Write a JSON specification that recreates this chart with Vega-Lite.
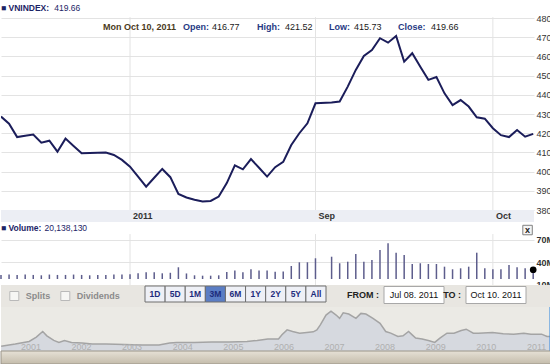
{
  "$schema": "https://vega.github.io/schema/vega-lite/v6.json",
  "padding": 0,
  "background": "#ffffff",
  "spacing": 0,
  "bounds": "flush",
  "config": {
    "view": {"stroke": null},
    "font": "Liberation Sans",
    "concat": {"spacing": 0},
    "axis": {"labelFont": "Liberation Sans", "labelOverlap": false}
  },
  "datasets": {
    "months": [
      {"i": 16, "label": "2011"},
      {"i": 39, "label": "Sep"},
      {"i": 61, "label": "Oct"}
    ],
    "daily": [
      {"i": 0, "d": "2011-07-08", "close": 428.7, "vol_m": 23},
      {"i": 1, "d": "2011-07-11", "close": 425, "vol_m": 23.5},
      {"i": 2, "d": "2011-07-12", "close": 418, "vol_m": 23},
      {"i": 3, "d": "2011-07-13", "close": 418.7, "vol_m": 23.5},
      {"i": 4, "d": "2011-07-14", "close": 419.3, "vol_m": 23},
      {"i": 5, "d": "2011-07-15", "close": 415.1, "vol_m": 22.5},
      {"i": 6, "d": "2011-07-18", "close": 416.1, "vol_m": 23.5},
      {"i": 7, "d": "2011-07-19", "close": 410.4, "vol_m": 23},
      {"i": 8, "d": "2011-07-20", "close": 417.2, "vol_m": 23},
      {"i": 9, "d": "2011-07-21", "close": 413.4, "vol_m": 23.5},
      {"i": 10, "d": "2011-07-22", "close": 409.6, "vol_m": 23},
      {"i": 11, "d": "2011-07-25", "close": 409.7, "vol_m": 22.5},
      {"i": 12, "d": "2011-07-26", "close": 409.8, "vol_m": 23},
      {"i": 13, "d": "2011-07-27", "close": 409.9, "vol_m": 23},
      {"i": 14, "d": "2011-07-28", "close": 408.7, "vol_m": 23.5},
      {"i": 15, "d": "2011-07-29", "close": 406.1, "vol_m": 23.5},
      {"i": 16, "d": "2011-08-01", "close": 402.6, "vol_m": 24},
      {"i": 17, "d": "2011-08-02", "close": 397.4, "vol_m": 25.2},
      {"i": 18, "d": "2011-08-03", "close": 392.2, "vol_m": 26.5},
      {"i": 19, "d": "2011-08-04", "close": 396.8, "vol_m": 26.5},
      {"i": 20, "d": "2011-08-05", "close": 401.4, "vol_m": 25.2},
      {"i": 21, "d": "2011-08-08", "close": 397.1, "vol_m": 25.9},
      {"i": 22, "d": "2011-08-09", "close": 388.4, "vol_m": 33.3},
      {"i": 23, "d": "2011-08-10", "close": 386.5, "vol_m": 25},
      {"i": 24, "d": "2011-08-11", "close": 385.3, "vol_m": 22.5},
      {"i": 25, "d": "2011-08-12", "close": 384.4, "vol_m": 22},
      {"i": 26, "d": "2011-08-15", "close": 384.7, "vol_m": 22},
      {"i": 27, "d": "2011-08-16", "close": 387, "vol_m": 22.5},
      {"i": 28, "d": "2011-08-17", "close": 394, "vol_m": 27},
      {"i": 29, "d": "2011-08-18", "close": 403.3, "vol_m": 28.8},
      {"i": 30, "d": "2011-08-19", "close": 401.2, "vol_m": 26.5},
      {"i": 31, "d": "2011-08-22", "close": 406.5, "vol_m": 30.5},
      {"i": 32, "d": "2011-08-23", "close": 402, "vol_m": 28.8},
      {"i": 33, "d": "2011-08-24", "close": 397.4, "vol_m": 28.8},
      {"i": 34, "d": "2011-08-25", "close": 402.3, "vol_m": 27.3},
      {"i": 35, "d": "2011-08-26", "close": 405.1, "vol_m": 27.5},
      {"i": 36, "d": "2011-08-29", "close": 413.9, "vol_m": 35},
      {"i": 37, "d": "2011-08-30", "close": 420, "vol_m": 40},
      {"i": 38, "d": "2011-08-31", "close": 425.2, "vol_m": 40},
      {"i": 39, "d": "2011-09-01", "close": 435.6, "vol_m": 45.4},
      {"i": 41, "d": "2011-09-05", "close": 436, "vol_m": 47.5},
      {"i": 42, "d": "2011-09-06", "close": 436.5, "vol_m": 38.7},
      {"i": 43, "d": "2011-09-07", "close": 444.3, "vol_m": 40.8},
      {"i": 44, "d": "2011-09-08", "close": 453, "vol_m": 51.2},
      {"i": 45, "d": "2011-09-09", "close": 460.3, "vol_m": 40.8},
      {"i": 46, "d": "2011-09-12", "close": 463.4, "vol_m": 43.1},
      {"i": 47, "d": "2011-09-13", "close": 469.5, "vol_m": 56.6},
      {"i": 48, "d": "2011-09-14", "close": 467.2, "vol_m": 65.6},
      {"i": 49, "d": "2011-09-15", "close": 470.7, "vol_m": 52.9},
      {"i": 50, "d": "2011-09-16", "close": 457.3, "vol_m": 49.8},
      {"i": 51, "d": "2011-09-19", "close": 461.7, "vol_m": 37.7},
      {"i": 52, "d": "2011-09-20", "close": 454.7, "vol_m": 38.7},
      {"i": 53, "d": "2011-09-21", "close": 447.8, "vol_m": 37.7},
      {"i": 54, "d": "2011-09-22", "close": 449.3, "vol_m": 37.7},
      {"i": 55, "d": "2011-09-23", "close": 440.8, "vol_m": 34.1},
      {"i": 56, "d": "2011-09-26", "close": 434.7, "vol_m": 30.6},
      {"i": 57, "d": "2011-09-27", "close": 437.3, "vol_m": 31.9},
      {"i": 58, "d": "2011-09-28", "close": 433.9, "vol_m": 34.1},
      {"i": 59, "d": "2011-09-29", "close": 428.3, "vol_m": 52.9},
      {"i": 60, "d": "2011-09-30", "close": 427.6, "vol_m": 31.9},
      {"i": 61, "d": "2011-10-03", "close": 422.6, "vol_m": 30.6},
      {"i": 62, "d": "2011-10-04", "close": 419, "vol_m": 30.6},
      {"i": 63, "d": "2011-10-05", "close": 418, "vol_m": 36.4},
      {"i": 64, "d": "2011-10-06", "close": 421.7, "vol_m": 33.3},
      {"i": 65, "d": "2011-10-07", "close": 418.2, "vol_m": 31.9},
      {"i": 66, "d": "2011-10-10", "close": 419.66, "vol_m": 30}
    ],
    "nav": [
      {"d": "2000-08-29", "v": 136},
      {"d": "2000-12-09", "v": 204},
      {"d": "2001-03-19", "v": 281},
      {"d": "2001-05-10", "v": 407},
      {"d": "2001-06-25", "v": 571},
      {"d": "2001-07-25", "v": 445},
      {"d": "2001-09-13", "v": 310},
      {"d": "2001-10-20", "v": 252},
      {"d": "2001-11-29", "v": 310},
      {"d": "2002-01-19", "v": 252},
      {"d": "2002-04-06", "v": 233},
      {"d": "2002-06-18", "v": 204},
      {"d": "2002-09-27", "v": 204},
      {"d": "2003-02-03", "v": 194},
      {"d": "2003-06-06", "v": 175},
      {"d": "2003-10-12", "v": 175},
      {"d": "2003-12-28", "v": 233},
      {"d": "2004-02-17", "v": 252},
      {"d": "2004-06-24", "v": 252},
      {"d": "2004-10-27", "v": 262},
      {"d": "2005-03-04", "v": 262},
      {"d": "2005-07-09", "v": 281},
      {"d": "2005-09-20", "v": 310},
      {"d": "2005-12-06", "v": 349},
      {"d": "2006-02-21", "v": 349},
      {"d": "2006-03-18", "v": 474},
      {"d": "2006-04-24", "v": 619},
      {"d": "2006-06-03", "v": 571},
      {"d": "2006-07-24", "v": 523},
      {"d": "2006-09-13", "v": 542},
      {"d": "2006-10-30", "v": 561},
      {"d": "2006-11-25", "v": 619},
      {"d": "2006-12-20", "v": 764},
      {"d": "2007-01-30", "v": 1054},
      {"d": "2007-03-07", "v": 1170},
      {"d": "2007-04-13", "v": 1054},
      {"d": "2007-05-08", "v": 957},
      {"d": "2007-06-03", "v": 1122},
      {"d": "2007-07-13", "v": 1083},
      {"d": "2007-09-03", "v": 957},
      {"d": "2007-10-09", "v": 1102},
      {"d": "2007-11-14", "v": 1083},
      {"d": "2008-01-04", "v": 957},
      {"d": "2008-02-24", "v": 813},
      {"d": "2008-04-05", "v": 571},
      {"d": "2008-05-11", "v": 523},
      {"d": "2008-07-02", "v": 426},
      {"d": "2008-08-08", "v": 445},
      {"d": "2008-09-17", "v": 571},
      {"d": "2008-10-13", "v": 474},
      {"d": "2008-11-07", "v": 378},
      {"d": "2008-12-24", "v": 349},
      {"d": "2009-02-13", "v": 301},
      {"d": "2009-03-25", "v": 252},
      {"d": "2009-05-01", "v": 378},
      {"d": "2009-06-21", "v": 523},
      {"d": "2009-08-11", "v": 523},
      {"d": "2009-10-02", "v": 600},
      {"d": "2009-11-07", "v": 639},
      {"d": "2009-12-28", "v": 523},
      {"d": "2010-02-03", "v": 523},
      {"d": "2010-05-16", "v": 542},
      {"d": "2010-08-01", "v": 503},
      {"d": "2010-10-16", "v": 494},
      {"d": "2010-12-28", "v": 523},
      {"d": "2011-02-17", "v": 494},
      {"d": "2011-05-05", "v": 494},
      {"d": "2011-06-13", "v": 426},
      {"d": "2011-07-08", "v": 428.7},
      {"d": "2011-10-10", "v": 419.66}
    ]
  },
  "vconcat": [
    {
      "width": 533,
      "height": 222,
      "layer": [
        {
          "data": {"name": "months"},
          "mark": {"type": "rule", "color": "#e3e3e3", "strokeWidth": 1},
          "encoding": {
            "x": {"field": "i", "type": "quantitative", "scale": {"domain": [0, 66.1], "nice": false, "zero": false}, "axis": null},
            "y": {
              "datum": 380, "type": "quantitative",
              "scale": {"domain": [373.75, 489.43], "nice": false, "zero": false},
              "axis": {
                "title": null, "orient": "right", "values": [380, 390, 400, 410, 420, 430, 440, 450, 460, 470, 480],
                "tickCount": 50,
                "grid": true, "gridColor": "#e3e3e3", "ticks": false, "domain": false, "labelOverlap": false,
                "labelFontSize": 9, "labelColor": "#333333", "labelPadding": 2
              }
            },
            "y2": {"datum": 480.5}
          }
        },
        {
          "data": {"values": [{}]},
          "mark": {"type": "rect", "color": "#eceef4"},
          "encoding": {
            "x": {"datum": 0, "type": "quantitative"}, "x2": {"datum": 66.1},
            "y": {"datum": 380, "type": "quantitative"}, "y2": {"datum": 373.75}
          }
        },
        {
          "data": {"name": "daily"},
          "mark": {"type": "line", "color": "#1b1d5a", "strokeWidth": 2, "clip": true},
          "encoding": {
            "x": {"field": "i", "type": "quantitative"},
            "y": {"field": "close", "type": "quantitative"}
          }
        },
        {
          "data": {"name": "months"},
          "mark": {"type": "text", "align": "left", "baseline": "middle", "dx": 3, "fontSize": 9, "fontWeight": "bold", "color": "#333333"},
          "encoding": {
            "x": {"field": "i", "type": "quantitative"},
            "y": {"datum": 376.9, "type": "quantitative"},
            "text": {"field": "label"}
          }
        },
        {"data": {"values": [{}]}, "mark": {"type": "text", "text": "■ VNINDEX:", "align": "left", "baseline": "middle", "fontSize": 8.5, "fontWeight": "bold", "color": "#1c2466"},
         "encoding": {"x": {"datum": 0, "type": "quantitative"}, "y": {"datum": 485.5, "type": "quantitative"}}},
        {"data": {"values": [{}]}, "mark": {"type": "text", "text": "419.66", "align": "left", "baseline": "middle", "fontSize": 8.5, "color": "#1c2466"},
         "encoding": {"x": {"datum": 6.6, "type": "quantitative"}, "y": {"datum": 485.5, "type": "quantitative"}}},
        {"data": {"values": [{}]}, "mark": {"type": "text", "text": "Mon Oct 10, 2011", "align": "left", "baseline": "middle", "fontSize": 9, "fontWeight": "bold", "color": "#4b3a1c"},
         "encoding": {"x": {"datum": 12.65, "type": "quantitative"}, "y": {"datum": 475.4, "type": "quantitative"}}},
        {"data": {"values": [{}]}, "mark": {"type": "text", "text": "Open:", "align": "left", "baseline": "middle", "fontSize": 9, "fontWeight": "bold", "color": "#283a84"},
         "encoding": {"x": {"datum": 22.57, "type": "quantitative"}, "y": {"datum": 475.4, "type": "quantitative"}}},
        {"data": {"values": [{}]}, "mark": {"type": "text", "text": "416.77", "align": "left", "baseline": "middle", "fontSize": 9, "color": "#1a1a1a"},
         "encoding": {"x": {"datum": 26.17, "type": "quantitative"}, "y": {"datum": 475.4, "type": "quantitative"}}},
        {"data": {"values": [{}]}, "mark": {"type": "text", "text": "High:", "align": "left", "baseline": "middle", "fontSize": 9, "fontWeight": "bold", "color": "#283a84"},
         "encoding": {"x": {"datum": 31.75, "type": "quantitative"}, "y": {"datum": 475.4, "type": "quantitative"}}},
        {"data": {"values": [{}]}, "mark": {"type": "text", "text": "421.52", "align": "left", "baseline": "middle", "fontSize": 9, "color": "#1a1a1a"},
         "encoding": {"x": {"datum": 35.22, "type": "quantitative"}, "y": {"datum": 475.4, "type": "quantitative"}}},
        {"data": {"values": [{}]}, "mark": {"type": "text", "text": "Low:", "align": "left", "baseline": "middle", "fontSize": 9, "fontWeight": "bold", "color": "#283a84"},
         "encoding": {"x": {"datum": 40.68, "type": "quantitative"}, "y": {"datum": 475.4, "type": "quantitative"}}},
        {"data": {"values": [{}]}, "mark": {"type": "text", "text": "415.73", "align": "left", "baseline": "middle", "fontSize": 9, "color": "#1a1a1a"},
         "encoding": {"x": {"datum": 43.78, "type": "quantitative"}, "y": {"datum": 475.4, "type": "quantitative"}}},
        {"data": {"values": [{}]}, "mark": {"type": "text", "text": "Close:", "align": "left", "baseline": "middle", "fontSize": 9, "fontWeight": "bold", "color": "#283a84"},
         "encoding": {"x": {"datum": 49.24, "type": "quantitative"}, "y": {"datum": 475.4, "type": "quantitative"}}},
        {"data": {"values": [{}]}, "mark": {"type": "text", "text": "419.66", "align": "left", "baseline": "middle", "fontSize": 9, "color": "#1a1a1a"},
         "encoding": {"x": {"datum": 53.33, "type": "quantitative"}, "y": {"datum": 475.4, "type": "quantitative"}}}
      ]
    },
    {
      "width": 533,
      "height": 63,
      "layer": [
        {
          "data": {"name": "months"},
          "mark": {"type": "rule", "color": "#e3e3e3", "strokeWidth": 1},
          "encoding": {
            "x": {"field": "i", "type": "quantitative", "scale": {"domain": [0, 66.1], "nice": false, "zero": false}, "axis": null},
            "y": {
              "datum": 9.46, "type": "quantitative",
              "scale": {"domain": [9.46, 94.2], "nice": false, "zero": false},
              "axis": {
                "title": null, "orient": "right", "values": [10, 40, 70], "labelExpr": "datum.value + 'M'",
                "tickCount": 50,
                "grid": true, "gridColor": "#e3e3e3", "ticks": false, "domain": false, "labelOverlap": false,
                "labelFontSize": 9, "labelFontWeight": "bold", "labelColor": "#333333", "labelPadding": 2
              }
            },
            "y2": {"datum": 78}
          }
        },
        {
          "data": {"name": "daily"},
          "mark": {"type": "rule", "color": "#5d5d8c", "strokeWidth": 1.5},
          "encoding": {
            "x": {"field": "i", "type": "quantitative"},
            "y": {"field": "vol_m", "type": "quantitative"},
            "y2": {"datum": 17.5}
          }
        },
        {
          "data": {"name": "daily"},
          "transform": [{"filter": "datum.i == 66"}],
          "mark": {"type": "point", "filled": true, "color": "#000000", "size": 45, "opacity": 1},
          "encoding": {"x": {"field": "i", "type": "quantitative"}, "y": {"field": "vol_m", "type": "quantitative"}}
        },
        {"data": {"values": [{}]}, "mark": {"type": "text", "text": "■ Volume:", "align": "left", "baseline": "middle", "fontSize": 8.5, "fontWeight": "bold", "color": "#1c2466"},
         "encoding": {"x": {"datum": 0, "type": "quantitative"}, "y": {"datum": 86.1, "type": "quantitative"}}},
        {"data": {"values": [{}]}, "mark": {"type": "text", "text": "20,138,130", "align": "left", "baseline": "middle", "fontSize": 8.5, "color": "#1c2466"},
         "encoding": {"x": {"datum": 5.4, "type": "quantitative"}, "y": {"datum": 86.1, "type": "quantitative"}}},
        {
          "data": {"values": [{}]},
          "mark": {"type": "square", "size": 90, "fill": "#f4f4f4", "stroke": "#808080", "strokeWidth": 1, "opacity": 1},
          "encoding": {"x": {"datum": 65.3, "type": "quantitative"}, "y": {"datum": 83.4, "type": "quantitative"}}
        },
        {
          "data": {"values": [{}]},
          "mark": {"type": "text", "text": "x", "fontSize": 9, "fontWeight": "bold", "color": "#222222", "baseline": "middle"},
          "encoding": {"x": {"datum": 65.3, "type": "quantitative"}, "y": {"datum": 83.4, "type": "quantitative"}}
        }
      ]
    },
    {
      "width": 550,
      "height": 22,
      "view": {"fill": "#e8e6e1"},
      "resolve": {"scale": {"x": "independent"}},
      "layer": [
        {
          "data": {"values": [{"item": "Splits"}, {"item": "Dividends"}]},
          "mark": {"type": "square", "size": 81, "fill": "#f6f6f4", "stroke": "#b9b9b9", "strokeWidth": 1, "opacity": 1, "xOffset": 4.5},
          "encoding": {
            "x": {"field": "item", "type": "nominal", "bandPosition": 0,
              "scale": {"type": "band", "domain": ["Splits", "Dividends"], "range": [8.8, 110.8], "paddingInner": 0, "paddingOuter": 0}, "axis": null},
            "y": {"datum": "row", "type": "nominal", "scale": {"paddingOuter": 0, "paddingInner": 0}, "axis": null}
          }
        },
        {
          "data": {"values": [{"item": "Splits"}, {"item": "Dividends"}]},
          "mark": {"type": "text", "align": "left", "dx": 16, "fontWeight": "bold", "fontSize": 9, "color": "#8b8b8b", "baseline": "middle"},
          "encoding": {
            "x": {"field": "item", "type": "nominal", "bandPosition": 0,
              "scale": {"type": "band", "domain": ["Splits", "Dividends"], "range": [8.8, 110.8], "paddingInner": 0, "paddingOuter": 0}, "axis": null},
            "y": {"datum": "row", "type": "nominal"},
            "text": {"field": "item"}
          }
        },
        {
          "data": {"values": [{"b": "1D"}, {"b": "5D"}, {"b": "1M"}, {"b": "3M"}, {"b": "6M"}, {"b": "1Y"}, {"b": "2Y"}, {"b": "5Y"}, {"b": "All"}]},
          "mark": {"type": "bar", "height": 16, "yOffset": -2, "stroke": "#6e6e6e", "strokeWidth": 1, "opacity": 1},
          "encoding": {
            "x": {"field": "b", "type": "nominal", "sort": null,
              "scale": {"type": "band", "range": [144, 325], "paddingInner": 0, "paddingOuter": 0}, "axis": null},
            "y": {"datum": "row", "type": "nominal"},
            "color": {"condition": {"test": "datum.b === '3M'", "value": "#5a7dc4"}, "value": "#eef0f6"}
          }
        },
        {
          "data": {"values": [{"b": "1D"}, {"b": "5D"}, {"b": "1M"}, {"b": "3M"}, {"b": "6M"}, {"b": "1Y"}, {"b": "2Y"}, {"b": "5Y"}, {"b": "All"}]},
          "mark": {"type": "text", "fontWeight": "bold", "fontSize": 8.5, "yOffset": -2, "color": "#1d2c7c", "baseline": "middle"},
          "encoding": {
            "x": {"field": "b", "type": "nominal", "sort": null,
              "scale": {"type": "band", "range": [144, 325], "paddingInner": 0, "paddingOuter": 0}, "axis": null},
            "y": {"datum": "row", "type": "nominal"},
            "text": {"field": "b"}
          }
        },
        {
          "data": {"values": [{"k": "FROM :", "v": "Jul 08. 2011"}, {"k": "TO :", "v": "Oct 10. 2011"}]},
          "mark": {"type": "bar", "height": 17, "yOffset": -1, "fill": "#ffffff", "stroke": "#a8a8a8", "strokeWidth": 1},
          "encoding": {
            "x": {"field": "k", "type": "nominal", "sort": null,
              "scale": {"type": "band", "range": [383, 525], "paddingInner": 0.268, "paddingOuter": 0}, "axis": null},
            "y": {"datum": "row", "type": "nominal"}
          }
        },
        {
          "data": {"values": [{"k": "FROM :", "v": "Jul 08. 2011"}, {"k": "TO :", "v": "Oct 10. 2011"}]},
          "mark": {"type": "text", "fontSize": 9, "color": "#111111", "yOffset": -1, "baseline": "middle"},
          "encoding": {
            "x": {"field": "k", "type": "nominal", "sort": null,
              "scale": {"type": "band", "range": [383, 525], "paddingInner": 0.268, "paddingOuter": 0}, "axis": null},
            "y": {"datum": "row", "type": "nominal"},
            "text": {"field": "v"}
          }
        },
        {
          "data": {"values": [{"k": "FROM :", "v": "Jul 08. 2011"}, {"k": "TO :", "v": "Oct 10. 2011"}]},
          "mark": {"type": "text", "fontSize": 9, "fontWeight": "bold", "align": "right", "dx": -5, "color": "#222222", "yOffset": -1, "baseline": "middle"},
          "encoding": {
            "x": {"field": "k", "type": "nominal", "sort": null, "bandPosition": 0,
              "scale": {"type": "band", "range": [383, 525], "paddingInner": 0.268, "paddingOuter": 0}, "axis": null},
            "y": {"datum": "row", "type": "nominal"},
            "text": {"field": "k"}
          }
        }
      ]
    },
    {
      "width": 550,
      "height": 44,
      "view": {"fill": "#ebeae5"},
      "layer": [
        {
          "data": {"name": "nav"},
          "mark": {"type": "area", "fill": "#d6d9df", "opacity": 1, "clip": true, "line": {"color": "#a4a4a4", "strokeWidth": 1.5}},
          "encoding": {
            "x": {
              "field": "d", "type": "temporal",
              "scale": {"domain": [{"year": 2000, "month": 8, "date": 28}, {"year": 2011, "month": 7, "date": 12}]},
              "axis": {
                "title": null, "tickCount": {"interval": "year", "step": 1}, "format": "%Y",
                "labelAlign": "left", "labelOffset": 2, "labelBaseline": "middle", "labelPadding": 1, "offset": -6,
                "ticks": false, "tickSize": 0, "domain": false, "grid": false,
                "labelColor": "#b0b0b0", "labelFontSize": 9, "labelFlush": false, "labelOverlap": false, "zindex": 1
              }
            },
            "y": {"field": "v", "type": "quantitative", "scale": {"domain": [0, 1290], "nice": false}, "axis": null}
          }
        },
        {
          "data": {"values": [{"d": "2011-07-08"}]},
          "mark": {"type": "rule", "color": "#3d8ee0", "strokeWidth": 2},
          "encoding": {"x": {"field": "d", "type": "temporal"}}
        }
      ]
    },
    {
      "width": 550,
      "height": 13,
      "data": {"values": [{"part": "scrollbar"}]},
      "mark": {
        "type": "rect",
        "stroke": "#9a9488",
        "strokeWidth": 1,
        "fill": {"gradient": "linear", "x1": 0, "y1": 0, "x2": 0, "y2": 1,
          "stops": [{"offset": 0, "color": "#e6e1d6"}, {"offset": 1, "color": "#c4bcab"}]}
      },
      "encoding": {}
    }
  ]
}
